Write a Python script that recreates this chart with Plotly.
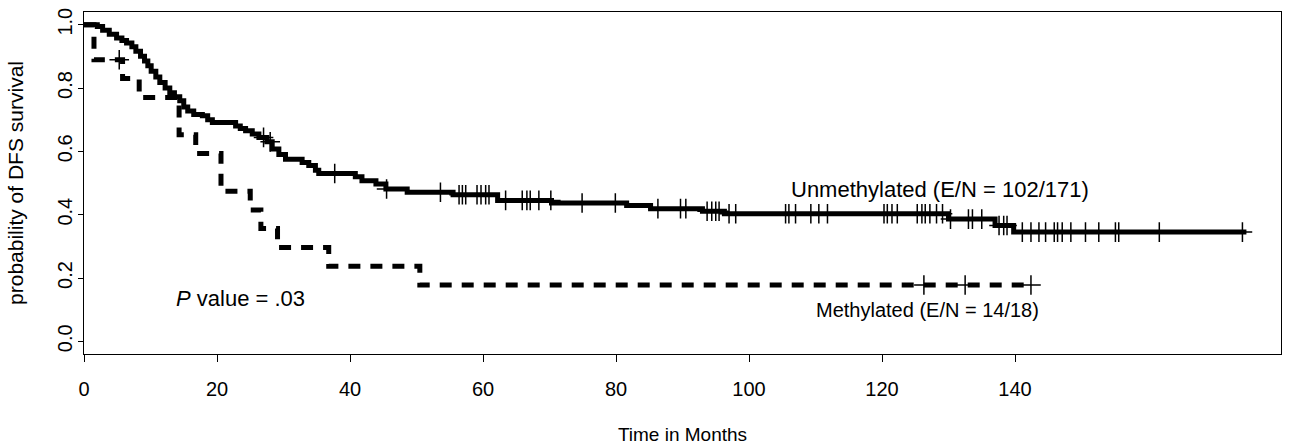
import numpy as np
import plotly.graph_objects as go

# ---------------- data ----------------
unmeth_t = [0, 2.0, 2.8, 3.8, 4.9, 5.7, 6.4, 7.2, 7.8, 8.5, 9.1, 9.6, 10.1, 10.8, 11.4,
            12.2, 12.9, 13.6, 14.4, 15.0, 15.6, 16.5, 17.8, 18.6, 19.3, 22.8, 23.5, 24.3,
            25.3, 26.3, 27.5, 28.3, 29.3, 30.3, 32.8, 33.8, 34.8, 35.3, 40.8, 41.8, 43.9,
            45.4, 48.6, 55.5, 62.2, 70.3, 81.6, 85.2, 93.0, 96.3, 130.0, 137.0, 139.8]
unmeth_s = [1.0, 0.994, 0.982, 0.970, 0.958, 0.950, 0.942, 0.930, 0.916, 0.900, 0.885,
            0.870, 0.853, 0.835, 0.817, 0.800, 0.785, 0.772, 0.760, 0.740, 0.727, 0.716,
            0.712, 0.700, 0.691, 0.680, 0.672, 0.665, 0.655, 0.644, 0.630, 0.607, 0.590,
            0.575, 0.565, 0.555, 0.540, 0.530, 0.520, 0.507, 0.497, 0.481, 0.471, 0.463,
            0.445, 0.437, 0.429, 0.419, 0.411, 0.403, 0.386, 0.366, 0.345]
unmeth_end = 174.8
unmeth_cens = [27.0, 28.0, 37.7, 45.5, 53.6, 56.4, 56.9, 57.4, 59.1, 59.7, 60.4, 60.9,
               63.4, 65.9, 66.6, 67.1, 68.4, 70.2, 74.9, 79.9, 86.3, 89.7, 90.5, 93.7,
               94.4, 95.0, 95.5, 97.0, 98.0, 105.5, 106.0, 107.0, 109.3, 110.5, 111.8,
               120.3, 120.8, 121.5, 122.3, 125.3, 126.0, 126.5, 127.2, 128.2, 129.1,
               130.3, 133.0, 133.6, 135.0, 137.6, 138.3, 138.8, 141.1, 142.4, 143.6,
               144.6, 145.9, 146.4, 147.1, 148.4, 150.6, 152.6, 155.1, 155.6, 161.7, 174.2]

meth_t = [0, 1.5, 5.8, 8.3, 14.3, 16.8, 20.6, 25.0, 26.6, 29.1, 36.8, 50.5]
meth_s = [1.0, 0.889, 0.830, 0.770, 0.652, 0.593, 0.474, 0.415, 0.356, 0.296, 0.237, 0.178]
meth_end = 142.5
meth_cens = [5.3, 126.3, 132.5, 142.4]

x_ticks = [0, 20, 40, 60, 80, 100, 120, 140]
y_ticks = [0.0, 0.2, 0.4, 0.6, 0.8, 1.0]
y_ticktext = ["0.0", "0.2", "0.4", "0.6", "0.8", "1.0"]

label_unmeth = "Unmethylated (E/N = 102/171)"
label_meth = "Methylated (E/N = 14/18)"
label_p = "<i>P</i> value = .03"


def step_at(ts, ss, t):
    idx = np.searchsorted(np.asarray(ts), t, side="right") - 1
    return [ss[i] for i in np.atleast_1d(idx)]


FONT = "Liberation Sans, Arial, sans-serif"
fig = go.Figure()

# Unmethylated (solid)
fig.add_trace(go.Scatter(
    x=unmeth_t + [unmeth_end], y=unmeth_s + [unmeth_s[-1]],
    mode="lines", line=dict(color="black", width=5, shape="hv"),
    showlegend=False, hoverinfo="skip"))
fig.add_trace(go.Scatter(
    x=unmeth_cens, y=step_at(unmeth_t, unmeth_s, unmeth_cens),
    mode="markers",
    marker=dict(symbol="cross-thin-open", size=14, color="black",
                line=dict(color="black", width=1.5)),
    showlegend=False, hoverinfo="skip"))

# Methylated (dashed)
fig.add_trace(go.Scatter(
    x=meth_t + [meth_end], y=meth_s + [meth_s[-1]],
    mode="lines", line=dict(color="black", width=5, shape="hv", dash="12px,10px"),
    showlegend=False, hoverinfo="skip"))
fig.add_trace(go.Scatter(
    x=meth_cens, y=step_at(meth_t, meth_s, meth_cens),
    mode="markers",
    marker=dict(symbol="cross-thin-open", size=14, color="black",
                line=dict(color="black", width=1.5)),
    showlegend=False, hoverinfo="skip"))

fig.add_annotation(x=106, y=0.48, xref="x", yref="y", text=label_unmeth,
                   showarrow=False, xanchor="left", yanchor="middle",
                   font=dict(family=FONT, size=22, color="black"))
fig.add_annotation(x=109.8, y=0.10, xref="x", yref="y", text=label_meth,
                   showarrow=False, xanchor="left", yanchor="middle",
                   font=dict(family=FONT, size=20, color="black"))
fig.add_annotation(x=13.5, y=0.135, xref="x", yref="y", text=label_p,
                   showarrow=False, xanchor="left", yanchor="middle",
                   font=dict(family=FONT, size=22, color="black"))

fig.update_layout(
    width=1289, height=448,
    margin=dict(l=84, r=7, t=12, b=91),
    paper_bgcolor="white", plot_bgcolor="white",
    font=dict(family=FONT, color="black"),
    xaxis=dict(range=[0, 180], tickvals=x_ticks, ticks="outside", ticklen=7,
               tickwidth=1, tickcolor="black", showline=True, mirror=True,
               linecolor="black", linewidth=1, showgrid=False, zeroline=False,
               ticklabelstandoff=10,
               tickfont=dict(family=FONT, size=20, color="black"),
               title=dict(text="Time in Months", standoff=28,
                          font=dict(family=FONT, size=19, color="black"))),
    yaxis=dict(range=[-0.04, 1.04], tickvals=y_ticks, ticktext=y_ticktext,
               tickangle=-90, ticks="outside", ticklen=5, tickwidth=1,
               tickcolor="black", showline=True, mirror=True, linecolor="black",
               linewidth=1, showgrid=False, zeroline=False,
               ticklabelstandoff=-2,
               tickfont=dict(family=FONT, size=20, color="black"),
               title=dict(text="probability of DFS survival", standoff=24,
                          font=dict(family=FONT, size=21, color="black"))),
)

fig.write_html("out.html")
